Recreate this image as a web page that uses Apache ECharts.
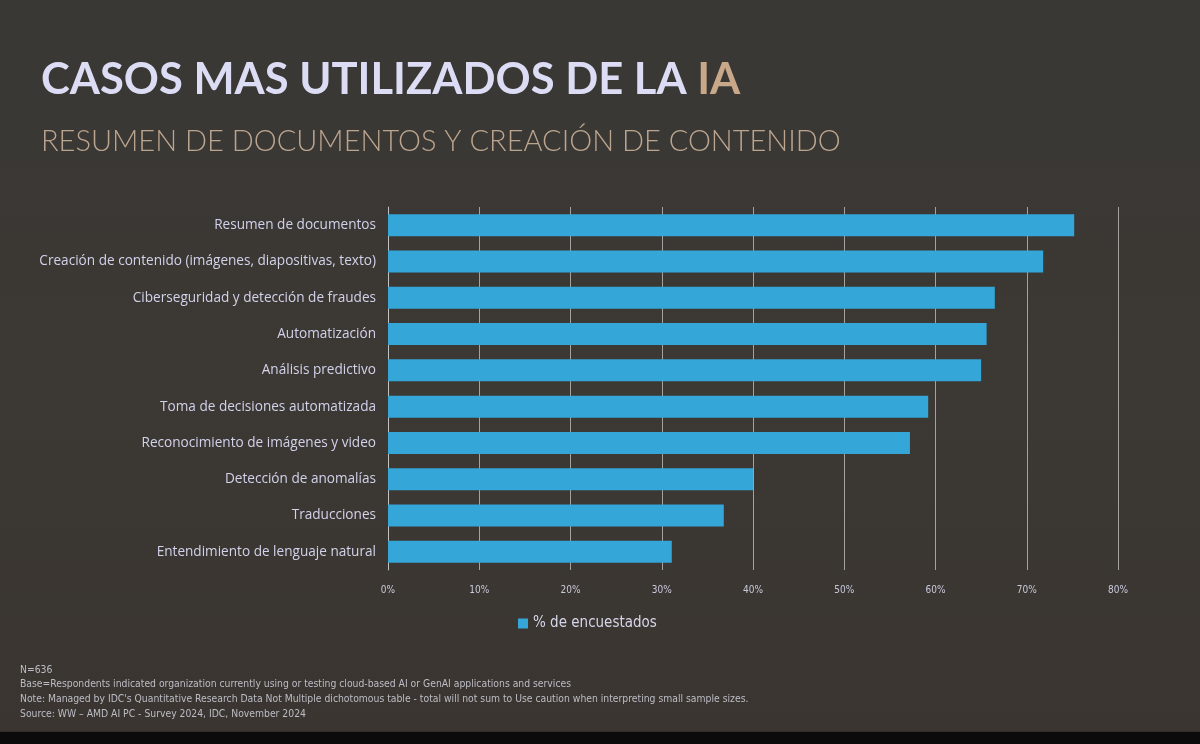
<!DOCTYPE html>
<html><head><meta charset="utf-8">
<script src="https://cdn.jsdelivr.net/npm/echarts@6/dist/echarts.min.js"></script>
<style>html,body{margin:0;padding:0;background:#000;}#c{width:1200px;height:744px;}</style>
</head><body><div id="c"></div>
<script>
const categories = [
  "Resumen de documentos",
  "Creación de contenido (imágenes, diapositivas, texto)",
  "Ciberseguridad y detección de fraudes",
  "Automatización",
  "Análisis predictivo",
  "Toma de decisiones automatizada",
  "Reconocimiento de imágenes y video",
  "Detección de anomalías",
  "Traducciones",
  "Entendimiento de lenguaje natural"
];
const values = [75.2, 71.8, 66.5, 65.6, 65.0, 59.2, 57.2, 40.0, 36.8, 31.1];
const seriesName = "% de encuestados";
const footnotes = [
  "N=636",
  "Base=Respondents indicated organization currently using or testing cloud-based AI or GenAI applications and services",
  "Note: Managed by IDC's Quantitative Research Data Not Multiple dichotomous table - total will not sum to Use caution when interpreting small sample sizes.",
  "Source: WW – AMD AI PC - Survey 2024, IDC, November 2024"
];
const narrow = "'DejaVu Sans Condensed', 'Liberation Sans', sans-serif";

const chart = echarts.init(document.getElementById('c'));
chart.setOption({
  backgroundColor: {
    type: 'linear', x: 0, y: 0, x2: 0, y2: 1,
    colorStops: [
      {offset: 0, color: '#393835'}, {offset: 0.5, color: '#3c3834'},
      {offset: 0.983, color: '#3a3531'}, {offset: 0.984, color: '#0b0b0b'}, {offset: 1, color: '#0b0b0b'}
    ]
  },
  title: [{
    text: '{a|CASOS MAS UTILIZADOS DE LA }{b|IA}',
    left: 36, top: 53,
    textStyle: {
      rich: {
        a: {fontFamily: 'Lato', fontWeight: 'bold', fontSize: 43.5, color: '#dcdcf4'},
        b: {fontFamily: 'Lato', fontWeight: 'bold', fontSize: 43.5, color: '#c9a88a'}
      }
    }
  }, {
    text: 'RESUMEN DE DOCUMENTOS Y CREACIÓN DE CONTENIDO',
    left: 36, top: 122,
    textStyle: {fontFamily: 'Lato', fontWeight: 300, fontSize: 29, color: '#bca58e'}
  }],
  legend: {
    data: [seriesName], left: 513, top: 611,
    itemWidth: 10, itemHeight: 10, itemGap: 6,
    textStyle: {color: '#d6d6ea', fontSize: 15, fontFamily: narrow},
    icon: 'rect'
  },
  grid: {left: 388, right: 82, top: 207, bottom: 174, containLabel: false},
  xAxis: {
    type: 'value', min: 0, max: 80, interval: 10,
    axisLabel: {formatter: '{value}%', color: '#c9c9dd', fontSize: 10, fontFamily: narrow, margin: 15},
    splitLine: {show: true, lineStyle: {color: '#d0d0d0', width: 1, opacity: 0.7}},
    axisLine: {show: false}, axisTick: {show: false}
  },
  yAxis: {
    type: 'category', data: categories, inverse: true,
    axisLabel: {color: '#d2d2ea', fontSize: 13.6, fontFamily: 'Open Sans', margin: 12},
    axisLine: {show: true, lineStyle: {color: '#d0d0d0', opacity: 0.7}},
    axisTick: {show: false}
  },
  series: [{
    name: seriesName, type: 'bar', data: values, barWidth: 22,
    itemStyle: {color: '#34a6d8'}
  }],
  graphic: footnotes.map((t, i) => ({
    type: 'text', left: 20, top: 665 + i * 14.8,
    style: {text: t, fill: '#bdbdc6', fontSize: 10.3, fontFamily: narrow}
  }))
});
</script></body></html>
